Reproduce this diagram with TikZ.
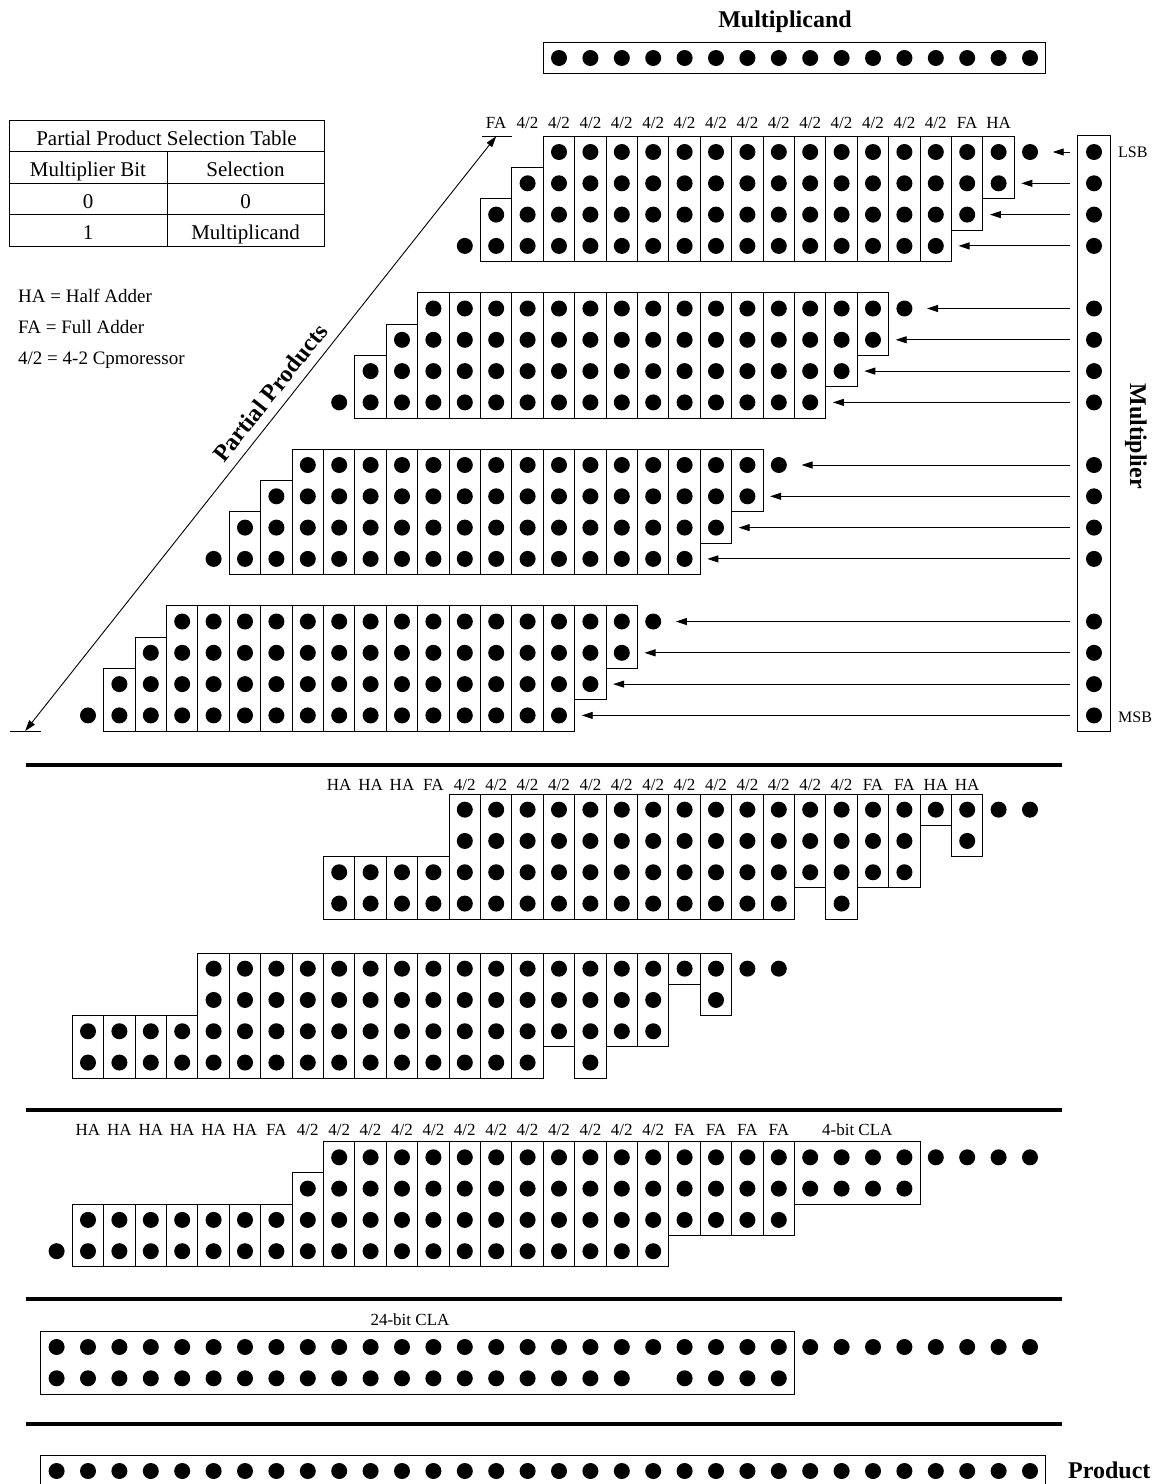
\documentclass[tikz,border=0pt]{standalone}
\usepackage{fontspec}
\setmainfont{Liberation Serif}
\usetikzlibrary{arrows.meta,positioning,fit}

\tikzset{
  bit/.style={circle, fill=black, inner sep=0pt, minimum size=16pt},
  cellline/.style={draw=black, line width=1pt},
  regbox/.style={draw=black, line width=1pt, inner sep=0pt},
  selarrow/.style={-{Triangle[length=11pt,width=7pt]}, line width=0.9pt},
  dimarrow/.style={{Triangle[length=11pt,width=7pt]}-{Triangle[length=11pt,width=7pt]}, line width=0.9pt},
  stagerule/.style={line width=3.3pt},
  colmark/.style={font=\fontsize{17}{19}\selectfont, inner sep=0pt, anchor=base},
  tabtext/.style={font=\fontsize{21}{24}\selectfont, inner sep=0pt, anchor=base},
  keytext/.style={font=\fontsize{19}{22}\selectfont, inner sep=0pt, anchor=base west},
  heading/.style={font=\fontsize{24}{27}\selectfont\bfseries, inner sep=0pt}
}

% x of a bit column, column 0 (LSB) on the right
\newcommand{\colx}[1]{1030-31.4*(#1)}
% box round one column, between the centres of its first and last dot
\newcommand{\colbox}[3]{%
  \draw[cellline] ({\colx{#1}-15.7},{#2-15.65}) rectangle ({\colx{#1}+15.7},{#3+15.65});}

\begin{document}
\begin{tikzpicture}[x=1pt, y=-1pt]
  \useasboundingbox (0,0) rectangle (1161,1484);

  % --- selection table and key ---
  \draw[line width=1pt] (9,120) rectangle (324,246);
  \draw[line width=1pt] (9,151.5) -- (324,151.5) (9,183) -- (324,183)
        (9,214.5) -- (324,214.5) (167,151.5) -- (167,246);
  \node[tabtext] (tabhead) at (166.5,145) {Partial Product Selection Table};
  \node[tabtext] (tabbit) at (88,176.5) {Multiplier Bit};
  \node[tabtext] (tabsel) at (245.5,176.5) {Selection};
  \node[tabtext] (tabzero) at (88,208) {0};
  \node[tabtext] (tabnone) at (245.5,208) {0};
  \node[tabtext] (tabone) at (88,239.5) {1};
  \node[tabtext] (tabmcand) at (245.5,239.5) {Multiplicand};

  \node[keytext] (keyha) at (18,302) {HA = Half Adder};
  \node[keytext] (keyfa) at (18,333) {FA = Full Adder};
  \node[keytext] (keycomp) at (18,364) {4/2 = 4-2 Cpmoressor};

  % --- multiplicand ---
  \node[heading, anchor=base] (mcandlbl) at (785,27) {Multiplicand};
  \foreach \k in {0,...,15}
    \node[bit] (mcand-\k) at ({\colx{\k}},58) {};
  \node[regbox, inner xsep=7.7pt, inner ysep=7.5pt, fit=(mcand-15)(mcand-0)] (mcandbox) {};

  % --- multiplier ---
  \foreach \grp in {0,...,3}
    \foreach \row in {0,...,3} {
      \pgfmathtruncatemacro\idx{4*\grp+\row}
      \node[bit] (mplr-\idx) at (1094,{152+31.3*(5*\grp+\row)}) {};
    }
  \node[regbox, inner xsep=8pt, inner ysep=8pt, fit=(mplr-0)(mplr-15)] (mplrbox) {};
  \node[font=\fontsize{16}{18}\selectfont, inner sep=0pt, anchor=west] (lsb) at (1118,152) {LSB};
  \node[font=\fontsize{16}{18}\selectfont, inner sep=0pt, anchor=west] (msb) at (1118,717) {MSB};
  \node[heading, rotate=-90] (mplrlbl) at (1136,436) {Multiplier};

  % --- partial products ---
  \foreach \grp in {0,...,3} {
    \foreach \row in {0,...,3} {
      \pgfmathsetmacro\yy{152+31.3*(5*\grp+\row)}
      \foreach \k in {0,...,15} {
        \pgfmathtruncatemacro\bitcol{4*\grp+\row+\k}
        \node[bit] (pp\grp\row-\bitcol) at ({\colx{\bitcol}},\yy) {};
      }
    }
  }
  \foreach \grp in {0,...,3} {
    \pgfmathsetmacro\ya{152+156.5*\grp}
    \pgfmathsetmacro\yb{\ya+31.3}
    \pgfmathsetmacro\yc{\ya+62.6}
    \pgfmathsetmacro\yd{\ya+93.9}
    \pgfmathtruncatemacro\base{4*\grp}
    \colbox{\base+1}{\ya}{\yb}
    \colbox{\base+2}{\ya}{\yc}
    \foreach \k in {3,...,15} {\colbox{\base+\k}{\ya}{\yd}}
    \colbox{\base+16}{\yb}{\yd}
    \colbox{\base+17}{\yc}{\yd}
  }
  \foreach \grp in {0,...,3}
    \foreach \row in {0,...,3} {
      \pgfmathtruncatemacro\idx{4*\grp+\row}
      \draw[selarrow] ([xshift=-16pt]mplr-\idx.west) -- ([xshift=14.5pt]pp\grp\row-\idx.east);
    }

  \foreach \k/\t in {1/HA,2/FA,17/FA}
    \node[colmark] (toplab-\k) at ({\colx{\k}},128) {\t};
  \foreach \k in {3,...,16}
    \node[colmark] (toplab-\k) at ({\colx{\k}},128) {4/2};

  % span of the partial products
  \coordinate (ppend) at ({\colx{32}},731);
  \coordinate (ppstart) at ({\colx{17}},136.35);
  \draw[line width=0.9pt] ([xshift=-15pt]ppend) -- ([xshift=16pt]ppend);
  \draw[line width=0.9pt] ([xshift=-14pt]ppstart) -- ([xshift=16pt]ppstart);
  \draw[dimarrow] (ppend) -- (ppstart)
        node[heading, sloped, pos=0.55, above=9pt] (pplbl) {Partial Products};

  % --- first stage: two blocks ---
  \draw[stagerule] (26,765) -- (1062,765);
  \foreach \sname/\sh/\ya in {A/0/809.65, B/8/968.65} {
    \pgfmathsetmacro\yb{\ya+31.3}
    \pgfmathsetmacro\yc{\ya+62.6}
    \pgfmathsetmacro\yd{\ya+93.9}
    \foreach \k in {0,...,18} {
      \pgfmathtruncatemacro\bitcol{\k+\sh}
      \node[bit] (\sname0-\bitcol) at ({\colx{\bitcol}},\ya) {};
    }
    \foreach \k in {2,4,5,...,18} {
      \pgfmathtruncatemacro\bitcol{\k+\sh}
      \node[bit] (\sname1-\bitcol) at ({\colx{\bitcol}},\yb) {};
    }
    \foreach \k in {4,...,22} {
      \pgfmathtruncatemacro\bitcol{\k+\sh}
      \node[bit] (\sname2-\bitcol) at ({\colx{\bitcol}},\yc) {};
    }
    \foreach \k in {6,8,9,...,22} {
      \pgfmathtruncatemacro\bitcol{\k+\sh}
      \node[bit] (\sname3-\bitcol) at ({\colx{\bitcol}},\yd) {};
    }
    \colbox{\sh+2}{\ya}{\yb}
    \colbox{\sh+3}{\ya}{\ya}
    \foreach \k in {4,5,7} {\colbox{\sh+\k}{\ya}{\yc}}
    \foreach \k in {6,8,9,...,18} {\colbox{\sh+\k}{\ya}{\yd}}
    \foreach \k in {19,...,22} {\colbox{\sh+\k}{\yc}{\yd}}
  }
  \foreach \k/\t in {2/HA,3/HA,4/FA,5/FA,19/FA,20/HA,21/HA,22/HA}
    \node[colmark] (Alab-\k) at ({\colx{\k}},790) {\t};
  \foreach \k in {6,...,18}
    \node[colmark] (Alab-\k) at ({\colx{\k}},790) {4/2};

  % --- second stage ---
  \draw[stagerule] (26,1110) -- (1062,1110);
  \foreach \k in {0,...,22} \node[bit] (C0-\k) at ({\colx{\k}},1157.3) {};
  \foreach \k in {4,...,23} \node[bit] (C1-\k) at ({\colx{\k}},1188.6) {};
  \foreach \k in {8,...,30} \node[bit] (C2-\k) at ({\colx{\k}},1219.9) {};
  \foreach \k in {12,...,31} \node[bit] (C3-\k) at ({\colx{\k}},1251.2) {};
  \node[regbox, inner xsep=7.7pt, inner ysep=7.65pt, fit=(C0-7)(C1-4)] (cla4box) {};
  \foreach \k in {8,...,11} {\colbox{\k}{1157.3}{1219.9}}
  \foreach \k in {12,...,22} {\colbox{\k}{1157.3}{1251.2}}
  \colbox{23}{1188.6}{1251.2}
  \foreach \k in {24,...,30} {\colbox{\k}{1219.9}{1251.2}}
  \foreach \k in {8,...,11,24}
    \node[colmark] (Clab-\k) at ({\colx{\k}},1135) {FA};
  \foreach \k in {12,...,23}
    \node[colmark] (Clab-\k) at ({\colx{\k}},1135) {4/2};
  \foreach \k in {25,...,30}
    \node[colmark] (Clab-\k) at ({\colx{\k}},1135) {HA};
  \node[colmark] (cla4lbl) at ({\colx{5.5}},1135) {4-bit CLA};

  % --- final adder ---
  \draw[stagerule] (26,1299) -- (1062,1299);
  \foreach \k in {0,...,31} \node[bit] (D0-\k) at ({\colx{\k}},1347) {};
  \foreach \k in {8,9,10,11,13,14,...,31} \node[bit] (D1-\k) at ({\colx{\k}},1378.3) {};
  \node[regbox, inner xsep=7.7pt, inner ysep=7.65pt, fit=(D0-31)(D1-8)] (cla24box) {};
  \node[colmark] (cla24lbl) at (410,1325) {24-bit CLA};

  % --- product ---
  \draw[stagerule] (26,1424) -- (1062,1424);
  \foreach \k in {0,...,31} \node[bit] (prod-\k) at ({\colx{\k}},1471) {};
  \node[regbox, inner xsep=7.7pt, inner ysep=7pt, fit=(prod-31)(prod-0)] (prodbox) {};
  \node[heading, anchor=base west] (prodlbl) at (1068,1478) {Product};
\end{tikzpicture}
\end{document}
